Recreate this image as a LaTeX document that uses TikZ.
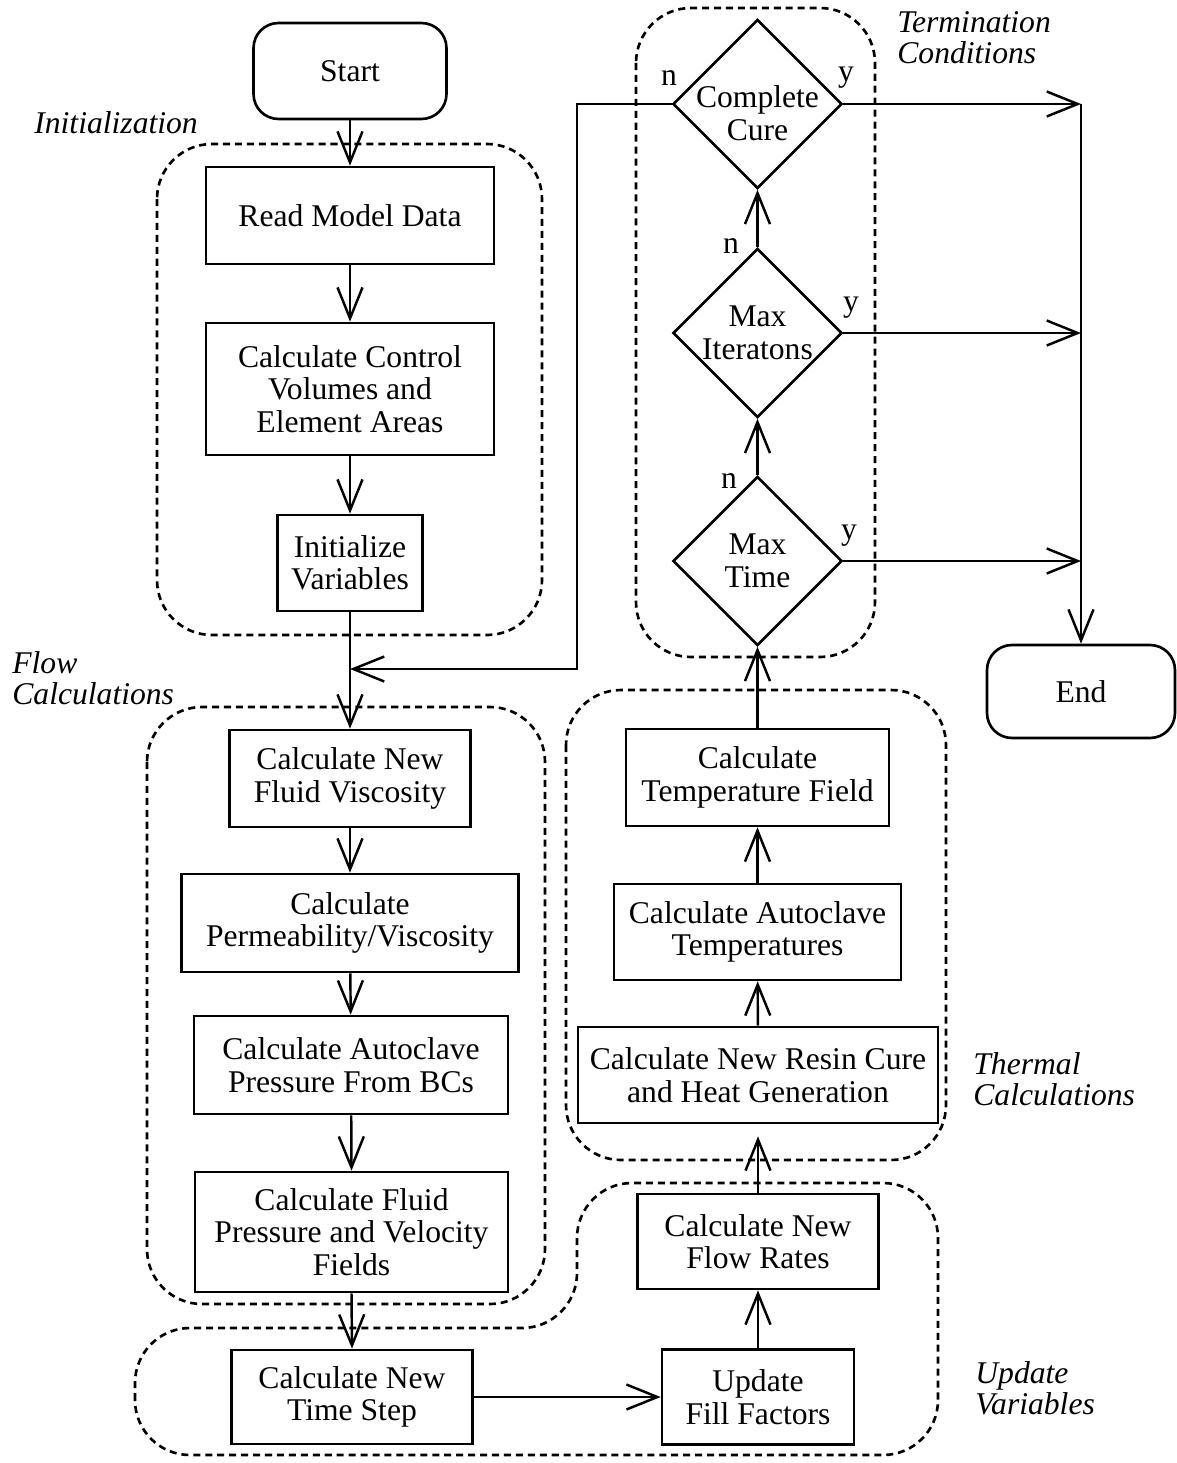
\documentclass[tikz,border=0pt]{standalone}
\usepackage{fontspec}
\setmainfont{Liberation Serif}
\usetikzlibrary{shapes.geometric,arrows.meta}
\tikzset{
  blk/.style={draw, line width=1.5pt, align=center, inner sep=0pt},
  term/.style={blk, rounded corners=0.5cm},
  dec/.style={draw, line width=1.5pt, diamond, aspect=1, align=center, inner sep=0pt, minimum width=3.38cm, minimum height=3.38cm},
  grp/.style={line width=1.5pt, dash pattern=on 4pt off 2.8pt, rounded corners=1.1cm},
  arr/.style={line width=1.4pt, -{Straight Barb[length=0.62cm,width=0.5cm]}},
  grplbl/.style={font=\fontsize{18}{17.6}\selectfont\itshape, align=left, anchor=west, inner sep=0pt},
  yn/.style={inner sep=0pt}
}
\begin{document}
\begin{tikzpicture}[x=0.02cm, y=-0.02cm, font=\fontsize{18}{18.5}\selectfont]
  \useasboundingbox (0,0) rectangle (1176,1463);
  \draw[grp] (157,144) rectangle (542,635);
  \draw[grp] (147,707) rectangle (545,1304);
  \draw[grp] (566,690) rectangle (946,1160);
  \draw[grp] (636,8) rectangle (875,657);
  \draw[grp] (135,1455) -- (135,1328) -- (577,1328) -- (577,1183) -- (938,1183) -- (938,1455) -- cycle;
  \node[grplbl] (linit) at (34,123) {Initialization};
  \node[grplbl] (lflow) at (12,678) {Flow\\Calculations};
  \node[grplbl] (lterm) at (897,38) {Termination\\Conditions};
  \node[grplbl] (ltherm) at (973,1079) {Thermal\\Calculations};
  \node[grplbl] (lupd) at (975,1388) {Update\\Variables};
  \node[term, minimum width=3.86cm, minimum height=1.92cm] (start) at (350,71) {Start};
  \node[blk, minimum width=5.76cm, minimum height=1.94cm] (read) at (350,215.5) {Read Model Data};
  \node[blk, minimum width=5.76cm, minimum height=2.64cm] (ctrl) at (350,389) {Calculate Control\\Volumes and\\Element Areas};
  \node[blk, minimum width=2.9cm, minimum height=1.92cm] (init) at (350,563) {Initialize\\Variables};
  \node[blk, minimum width=4.82cm, minimum height=1.94cm] (visc) at (350,778.5) {Calculate New\\Fluid Viscosity};
  \node[blk, minimum width=6.74cm, minimum height=1.96cm] (perm) at (350,923) {Calculate\\Permeability/Viscosity};
  \node[blk, minimum width=6.28cm, minimum height=1.96cm] (pres) at (351,1065) {Calculate Autoclave\\Pressure From BCs};
  \node[blk, minimum width=6.26cm, minimum height=2.4cm] (fields) at (351.5,1232) {Calculate Fluid\\Pressure and Velocity\\Fields};
  \node[blk, minimum width=4.82cm, minimum height=1.88cm] (tstep) at (352,1397) {Calculate New\\Time Step};
  \node[blk, minimum width=3.84cm, minimum height=1.9cm] (fill) at (758,1397) {Update\\Fill Factors};
  \node[blk, minimum width=4.82cm, minimum height=1.9cm] (rates) at (758,1241.5) {Calculate New\\Flow Rates};
  \node[blk, minimum width=7.2cm, minimum height=1.92cm] (cure) at (758,1075) {Calculate New Resin Cure\\and Heat Generation};
  \node[blk, minimum width=5.74cm, minimum height=1.92cm] (atemp) at (757.5,932) {Calculate Autoclave\\Temperatures};
  \node[blk, minimum width=5.26cm, minimum height=1.94cm] (tfield) at (757.5,777.5) {Calculate\\Temperature Field};
  \node[dec] (mt) at (757.5,561) {Max\\Time};
  \node[dec] (mi) at (757.5,333) {Max\\Iteratons};
  \node[dec, label={[align=center, inner sep=0pt, yshift=-0.18cm]center:Complete\\Cure}] (cc) at (757.5,104) {};
  \node[term, minimum width=3.76cm, minimum height=1.86cm] (end) at (1081,691.5) {End};
  \node[yn] (ncc) at (669,78) {n};
  \node[yn] (ycc) at (846,78) {y};
  \node[yn] (nmi) at (731,246) {n};
  \node[yn] (ymi) at (851,308) {y};
  \node[yn] (nmt) at (729,481) {n};
  \node[yn] (ymt) at (849,536) {y};
  \coordinate (loop) at (577,669);
  \coordinate (jcc) at (cc.east -| end.north);
  \coordinate (jmi) at (mi.east -| end.north);
  \coordinate (jmt) at (mt.east -| end.north);
  \draw[arr] (start) -- (read);
  \draw[arr] (read) -- (ctrl);
  \draw[arr] (ctrl) -- (init);
  \draw[arr] (init) -- (visc);
  \draw[arr] (cc.west) -| (loop) -- (init.south |- loop);
  \draw[arr] (visc) -- (perm);
  \draw[arr] (perm) -- (pres);
  \draw[arr] (pres) -- (fields.north);
  \draw[arr] (fields.south) -- (tstep.north);
  \draw[arr] (tstep) -- (fill);
  \draw[arr] (fill) -- (rates);
  \draw[arr, shorten >=0.24cm] (rates) -- (cure);
  \draw[arr] (cure) -- (atemp);
  \draw[arr] (atemp) -- (tfield);
  \draw[arr] (tfield) -- (mt);
  \draw[arr] (mt) -- (mi);
  \draw[arr] (mi) -- (cc);
  \draw[arr] (cc.east) -- (jcc);
  \draw[arr] (mi.east) -- (jmi);
  \draw[arr] (mt.east) -- (jmt);
  \draw[arr] (jcc) -- (end.north);
\end{tikzpicture}
\end{document}
